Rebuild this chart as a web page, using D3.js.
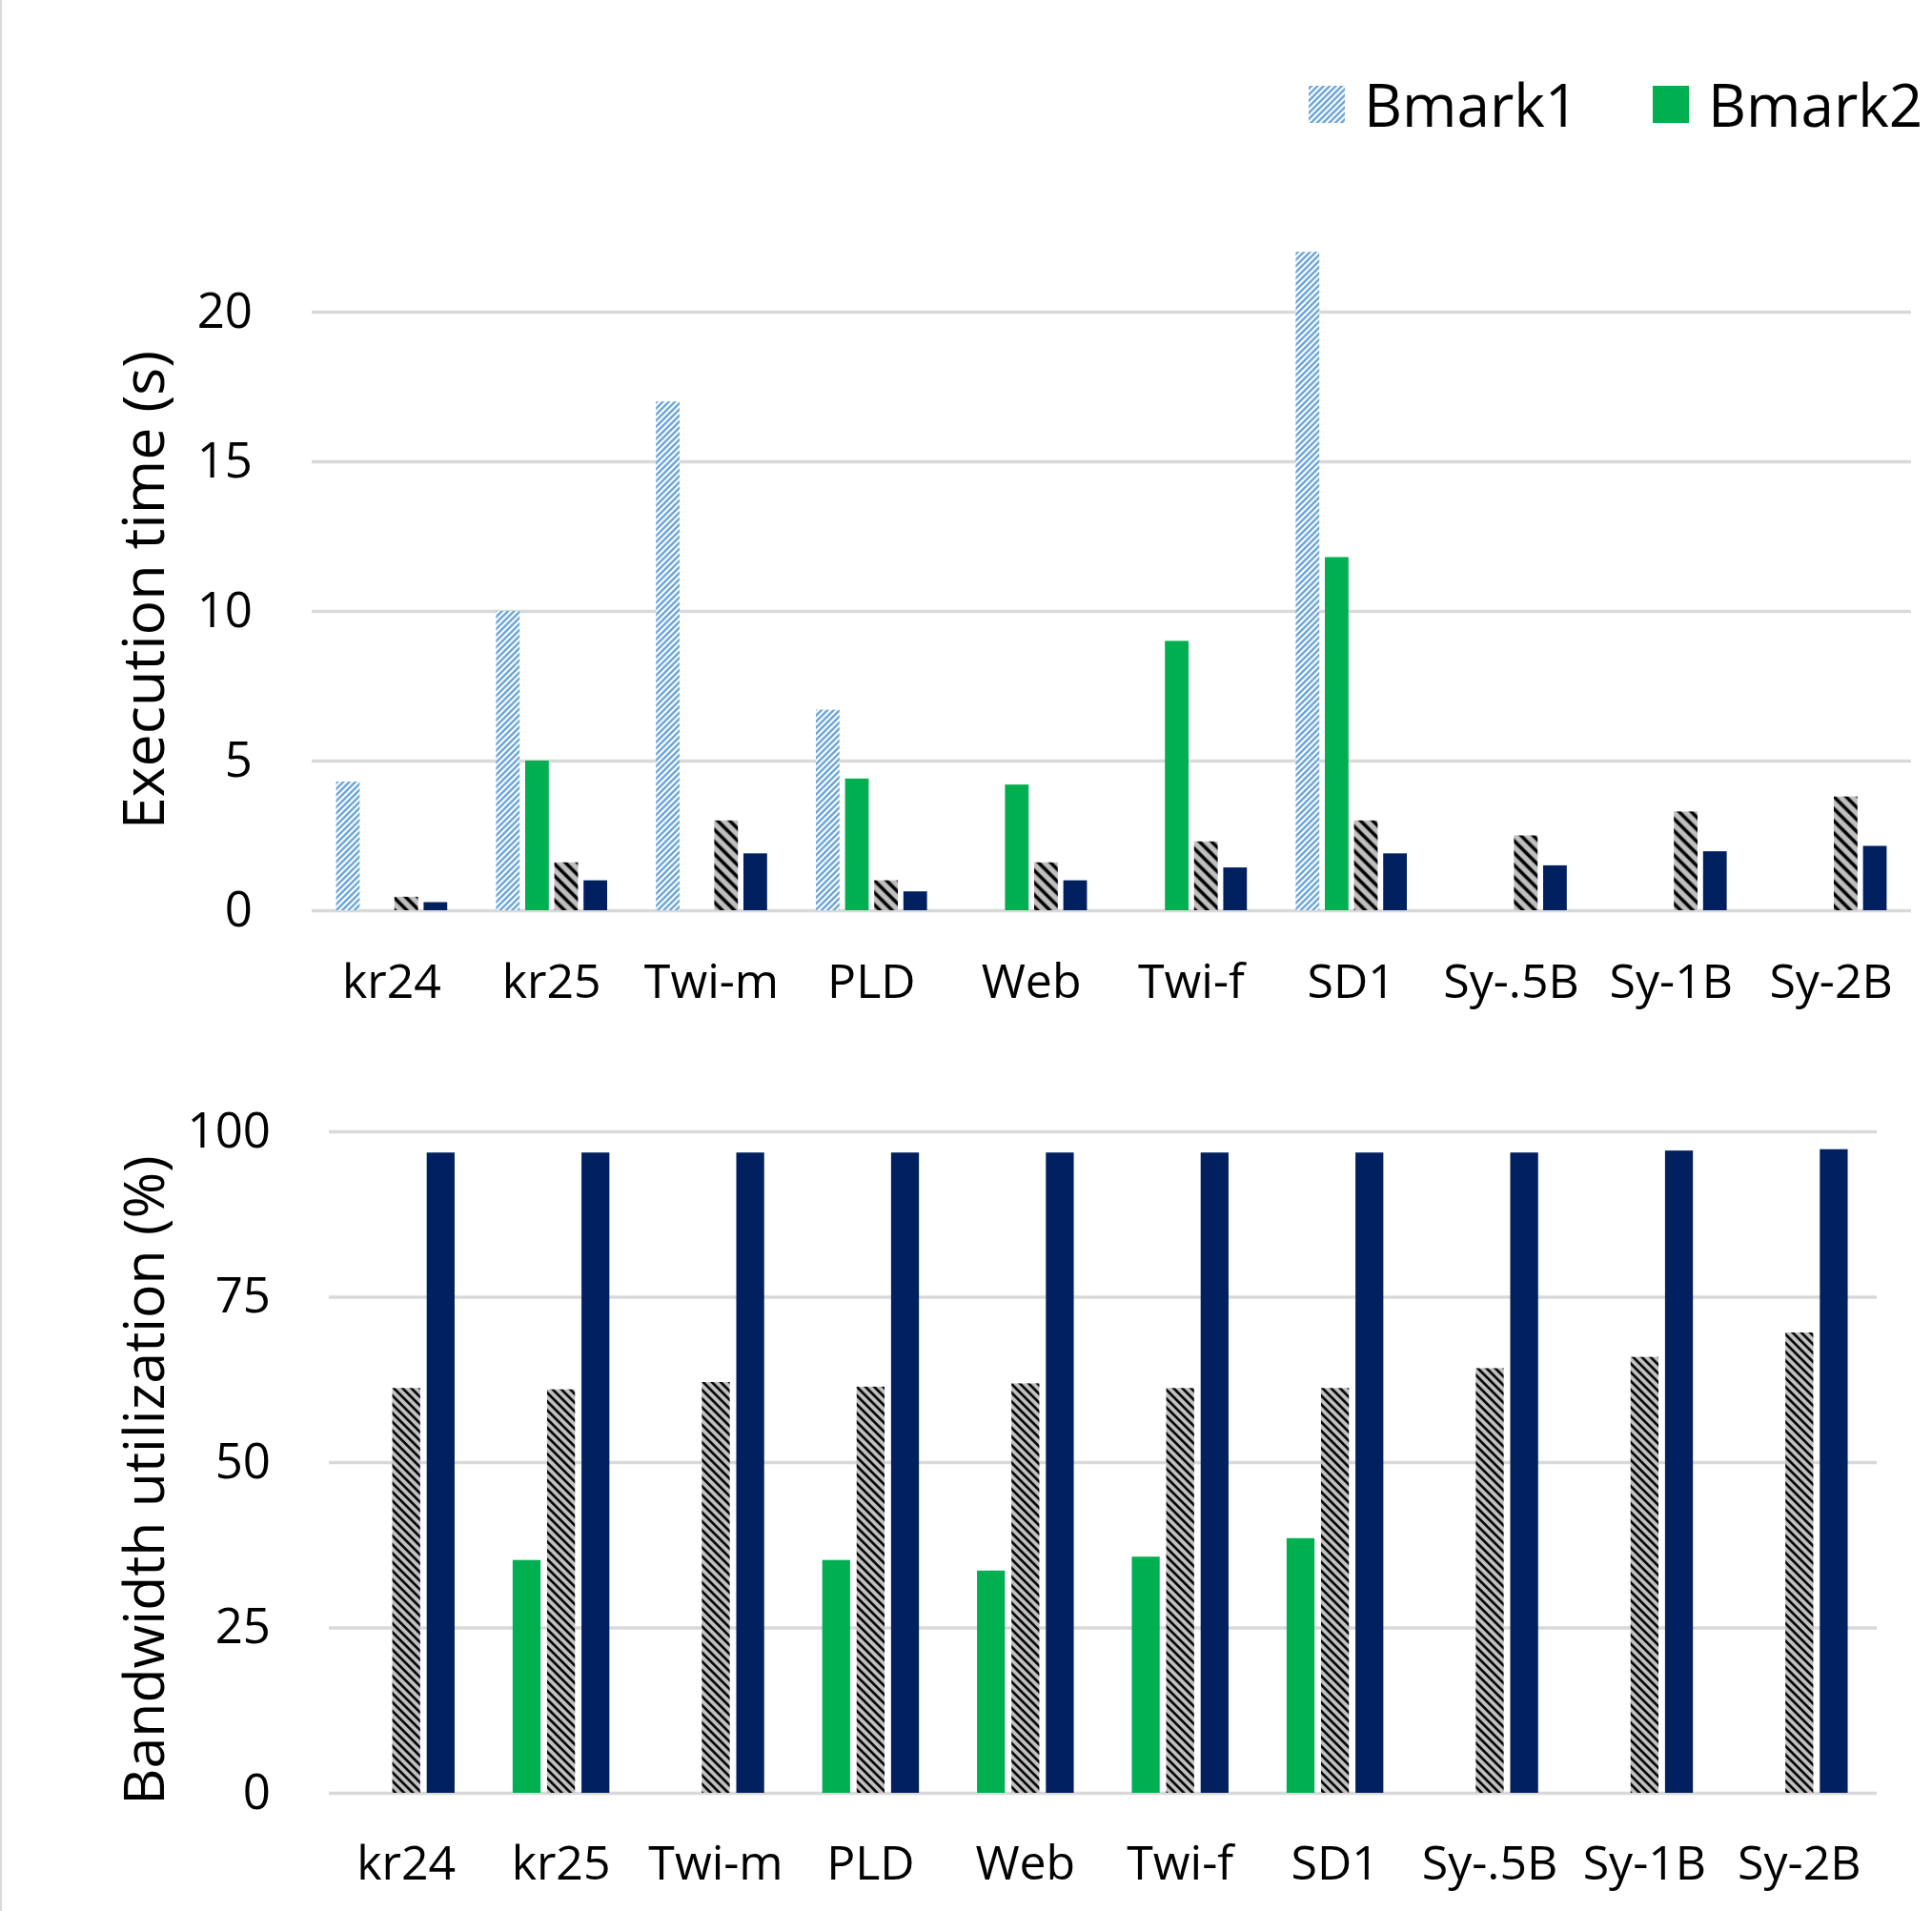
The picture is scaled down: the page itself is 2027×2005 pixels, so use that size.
<!DOCTYPE html>
<html>
<head>
<meta charset="utf-8">
<script src="https://cdn.jsdelivr.net/npm/d3@7"></script>
<style>
  body { margin: 0; background: #fff; }
  text { font-family: "Open Sans", "Noto Sans", sans-serif; fill: #000; }
</style>
</head>
<body>
<div id="chart"></div>
<script>
// categories and series
var categories = ["kr24", "kr25", "Twi-m", "PLD", "Web", "Twi-f", "SD1", "Sy-.5B", "Sy-1B", "Sy-2B"];

var execBmark1 = [4.3, 10.0, 17.0, 6.7, null, null, 22.0, null, null, null];
var execBmark2 = [null, 5.0, null, 4.4, 4.2, 9.0, 11.8, null, null, null];
var execGrey   = [0.45, 1.6, 3.0, 1.0, 1.6, 2.3, 3.0, 2.5, 3.3, 3.8];
var execNavy   = [0.27, 1.0, 1.9, 0.63, 1.0, 1.43, 1.9, 1.5, 1.97, 2.15];

var bwBmark2 = [null, 35.2, null, 35.2, 33.6, 35.7, 38.5, null, null, null];
var bwGrey   = [61.2, 61.0, 62.1, 61.4, 61.9, 61.2, 61.2, 64.2, 65.9, 69.6];
var bwNavy   = [96.8, 96.8, 96.8, 96.8, 96.8, 96.8, 96.8, 96.8, 97.1, 97.3];

var execTicks = [0, 5, 10, 15, 20];
var bwTicks = [0, 25, 50, 75, 100];

var legendNames = ["Bmark1", "Bmark2"];

var W = 2027, H = 2005;

var svg = d3.select("#chart").append("svg")
    .attr("width", W)
    .attr("height", H);

svg.append("rect").attr("width", W).attr("height", H).attr("fill", "#fff");
svg.append("line")
    .attr("x1", 1).attr("x2", 1).attr("y1", 0).attr("y2", H)
    .attr("stroke", "#d9d9d9").attr("stroke-width", 2);

// hatch fills
var defs = svg.append("defs");
function hatch(id, bg, fg, size, lw, angle) {
  var p = defs.append("pattern")
      .attr("id", id)
      .attr("patternUnits", "userSpaceOnUse")
      .attr("width", size).attr("height", size)
      .attr("patternTransform", "rotate(" + angle + ")");
  p.append("rect").attr("width", size).attr("height", size).attr("fill", bg);
  p.append("line")
      .attr("x1", size / 2).attr("x2", size / 2)
      .attr("y1", 0).attr("y2", size)
      .attr("stroke", fg).attr("stroke-width", lw);
}
hatch("blueHatch", "#ffffff", "#5b9bd5", 4.5, 2.2, 45);
hatch("greyHatchWide", "#c0c0c0", "#000000", 9, 3.6, -45);
hatch("greyHatchFine", "#c0c0c0", "#000000", 6.5, 2.6, -45);

var GREEN = "#00b050", NAVY = "#002060";

function drawPanel(opt) {
  var x0 = d3.scaleBand()
      .domain(categories)
      .range([opt.left, opt.right])
      .paddingInner(opt.pad)
      .paddingOuter(opt.pad / 2);

  var x1 = d3.scaleBand()
      .domain(opt.series.map(function(s) { return s.key; }))
      .range([0, x0.bandwidth()])
      .paddingInner(0.19);

  var y = d3.scaleLinear()
      .domain([0, opt.ticks[opt.ticks.length - 1]])
      .range([opt.bottom, opt.top]);

  var g = svg.append("g");

  // gridlines + tick labels
  var yAxis = d3.axisLeft(y)
      .tickValues(opt.ticks)
      .tickSize(-(opt.right - opt.left))
      .tickPadding(opt.tickPad);

  var ya = g.append("g")
      .attr("transform", "translate(" + opt.left + ",0)")
      .call(yAxis);
  ya.select(".domain").remove();
  ya.selectAll(".tick line").attr("stroke", "#d9d9d9").attr("stroke-width", 3.5);
  ya.selectAll(".tick text")
      .style("font-size", "51px")
      .style("font-family", "'Open Sans', sans-serif")
      .attr("fill", "#000");

  // bars
  opt.series.forEach(function(s) {
    g.append("g").selectAll("rect")
      .data(s.values.map(function(v, i) { return {c: categories[i], v: v}; })
                    .filter(function(d) { return d.v != null; }))
      .enter().append("rect")
        .attr("x", function(d) { return x0(d.c) + x1(s.key); })
        .attr("width", x1.bandwidth())
        .attr("y", function(d) { return y(d.v); })
        .attr("height", function(d) { return y(0) - y(d.v); })
        .attr("fill", s.fill);
  });

  // category labels
  var xa = g.append("g")
      .attr("transform", "translate(0," + opt.bottom + ")")
      .call(d3.axisBottom(x0).tickSize(0).tickPadding(opt.labelPad));
  xa.select(".domain").remove();
  xa.selectAll(".tick text")
      .style("font-size", "50px")
      .style("font-family", "'Open Sans', sans-serif")
      .attr("fill", "#000");

  // axis title
  g.append("text")
      .attr("transform", "translate(" + opt.titleX + "," + opt.titleY + ") rotate(-90)")
      .attr("text-anchor", "middle")
      .attr("dy", "0.35em")
      .style("font-size", opt.titleSize + "px")
      .text(opt.title);
}

drawPanel({
  left: 327, right: 2005, top: 327, bottom: 955,
  pad: 0.305, ticks: execTicks, tickPad: 62, labelPad: 56,
  titleX: 151, titleY: 619, titleSize: 61, title: "Execution time (s)",
  series: [
    {key: "Bmark1", values: execBmark1, fill: "url(#blueHatch)"},
    {key: "Bmark2", values: execBmark2, fill: GREEN},
    {key: "grey", values: execGrey, fill: "url(#greyHatchWide)"},
    {key: "navy", values: execNavy, fill: NAVY}
  ]
});

drawPanel({
  left: 345, right: 1969, top: 1187, bottom: 1881,
  pad: 0.375, ticks: bwTicks, tickPad: 61, labelPad: 55,
  titleX: 151, titleY: 1553, titleSize: 59, title: "Bandwidth utilization (%)",
  series: [
    {key: "Bmark2", values: bwBmark2, fill: GREEN},
    {key: "grey", values: bwGrey, fill: "url(#greyHatchFine)"},
    {key: "navy", values: bwNavy, fill: NAVY}
  ]
});

// legend
var legendFill = {"Bmark1": "url(#blueHatch)", "Bmark2": GREEN};
var legendX = [1373, 1734];
var lg = svg.append("g").selectAll("g")
    .data(legendNames)
    .enter().append("g")
    .attr("transform", function(d, i) { return "translate(" + legendX[i] + ",90)"; });
lg.append("rect")
    .attr("width", 38).attr("height", 39)
    .attr("fill", function(d) { return legendFill[d]; });
lg.append("text")
    .attr("x", 58).attr("y", 43)
    .style("font-size", "62px")
    .text(function(d) { return d; });
</script>
</body>
</html>
